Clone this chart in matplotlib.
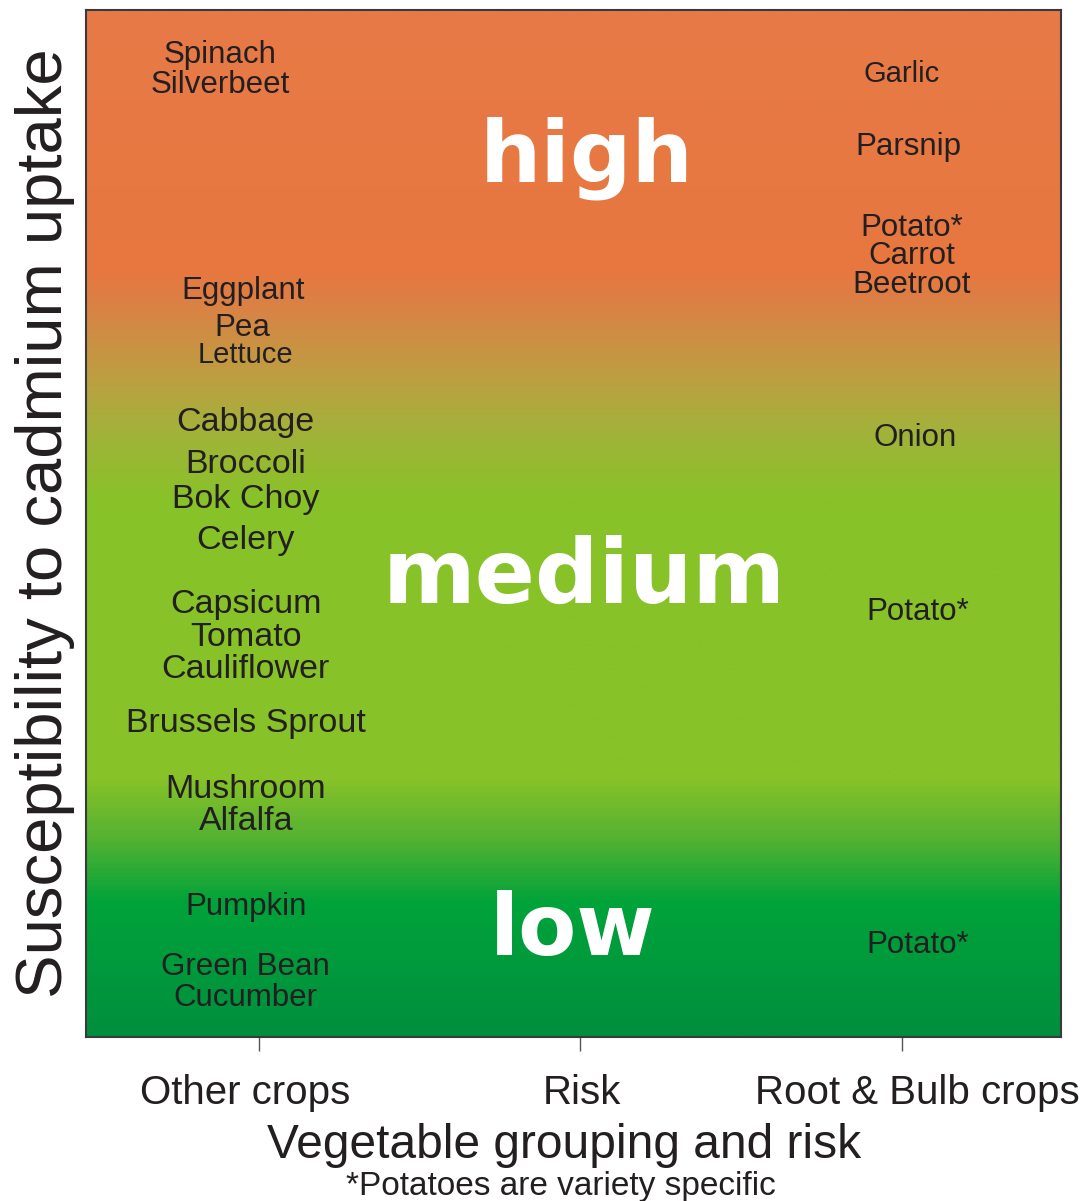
import numpy as np
import matplotlib.pyplot as plt
from matplotlib.colors import LinearSegmentedColormap
from matplotlib.transforms import ScaledTranslation

# susceptibility scale 0 (bottom) .. 100 (top); groups: 0 other, 2 root & bulb
group_ticks = [0, 1, 2]
group_names = ["Other crops", "Risk", "Root & Bulb crops"]

other_crops = ["Spinach", "Silverbeet", "Eggplant", "Pea", "Lettuce", "Cabbage",
               "Broccoli", "Bok Choy", "Celery", "Capsicum", "Tomato", "Cauliflower",
               "Brussels Sprout", "Mushroom", "Alfalfa", "Pumpkin", "Green Bean", "Cucumber"]
other_x = [-0.12, -0.12, -0.05, -0.05, -0.04, -0.04, -0.04, -0.04, -0.04, -0.04,
           -0.04, -0.04, -0.04, -0.04, -0.04, -0.04, -0.04, -0.04]
other_y = [95.6, 92.7, 72.6, 69.0, 66.4, 59.8, 55.7, 52.3, 48.3, 42.1,
           38.9, 35.8, 30.5, 24.1, 21.0, 12.7, 6.8, 3.8]

root_crops = ["Garlic", "Parsnip", "Potato*", "Carrot", "Beetroot", "Onion", "Potato*", "Potato*"]
root_x = [2.0, 2.02, 2.03, 2.03, 2.03, 2.04, 2.05, 2.05]
root_y = [93.8, 86.7, 78.8, 76.0, 73.2, 58.3, 41.4, 9.0]

risk_levels = ["high", "medium", "low"]
risk_x = [1.019, 1.012, 0.975]
risk_y = [83.3, 42.3, 8.0]

# background gradient stops (position on scale, colour)
grad_pos = [0, 12.9, 19.2, 25.0, 52.3, 59.1, 64.0, 71.8, 74.7, 100]
grad_col = ["#008F3E", "#00A33A", "#55B232", "#87C228", "#88C228", "#A3B23A",
            "#BCA041", "#DC8045", "#E7773F", "#E77A47"]

big = {"Cabbage", "Broccoli", "Bok Choy", "Celery", "Capsicum", "Tomato",
       "Cauliflower", "Brussels Sprout", "Mushroom", "Alfalfa"}
small = {"Lettuce", "Garlic"}
risk_size = {"high": 62, "medium": 64, "low": 61}

plt.rcParams['font.family'] = ['Liberation Sans', 'DejaVu Sans']
txt = "#231F20"

fig = plt.figure(figsize=(10.83, 12.01), dpi=100)
ax = fig.add_axes([86/1083, 1 - 1037/1201, 975/1083, 1027/1201])
xmin, xmax = -0.537, 2.494
ax.set_xlim(xmin, xmax)
ax.set_ylim(0, 100)

cmap = LinearSegmentedColormap.from_list(
    "risk", list(zip(np.array(grad_pos) / 100, grad_col)))
grad = np.linspace(0, 1, 600).reshape(-1, 1)
ax.imshow(grad, cmap=cmap, aspect="auto", origin="lower",
          extent=[xmin, xmax, 0, 100], zorder=0)

def fsize(name):
    if name in big:
        return 24.5
    if name in small:
        return 21
    return 22.5

for name, x, y in zip(other_crops, other_x, other_y):
    ax.text(x, y, name, ha="center", va="center", fontsize=fsize(name), color=txt)
for name, x, y in zip(root_crops, root_x, root_y):
    ax.text(x, y, name, ha="center", va="center", fontsize=fsize(name), color=txt)
for name, x, y in zip(risk_levels, risk_x, risk_y):
    ax.text(x, y, name, ha="center", va="baseline", fontsize=risk_size[name],
            fontweight="bold", color="white", family="DejaVu Sans")

ax.set_xticks(group_ticks)
ax.set_xticklabels(group_names, fontsize=29, color=txt)
ax.set_yticks([])
ax.tick_params(axis="x", length=10, width=1, color="#555555", pad=17)
# labels sit slightly off their ticks in the original
for lab, dx in zip(ax.get_xticklabels(), [-14, 2, 15]):
    lab.set_transform(lab.get_transform() + ScaledTranslation(dx / 100, 0, fig.dpi_scale_trans))
for s in ax.spines.values():
    s.set_color("#3a3a3a")
    s.set_linewidth(1.5)

fig.text(564/1083, 1 - 1158/1201, "Vegetable grouping and risk",
         ha="center", va="baseline", fontsize=34.5, color=txt)
fig.text(561/1083, 1 - 1195/1201, "*Potatoes are variety specific",
         ha="center", va="baseline", fontsize=24, color=txt)
ax.set_ylabel("Susceptibility to cadmium uptake", fontsize=47, color=txt, labelpad=8)

fig.savefig("out.png", dpi=100)
